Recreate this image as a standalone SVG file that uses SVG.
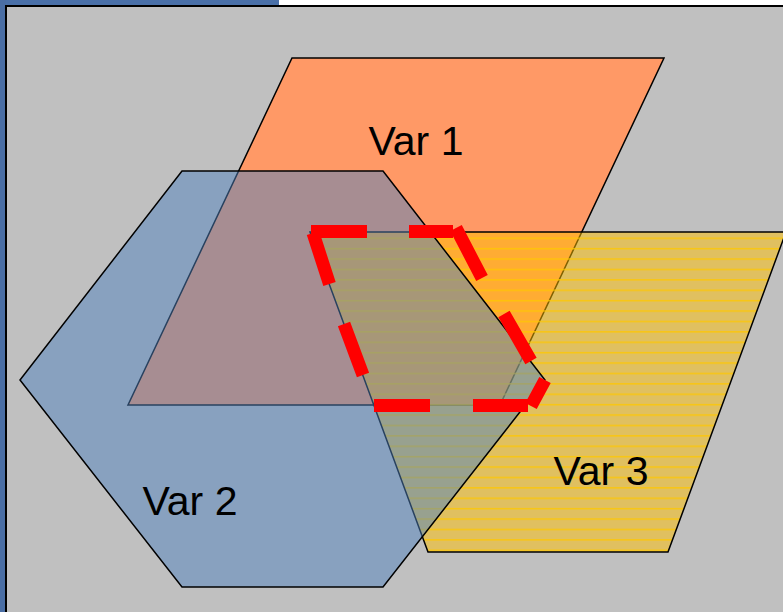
<svg xmlns="http://www.w3.org/2000/svg" width="783" height="612" viewBox="0 0 783 612">
  <style>
    .shape { stroke: #000; stroke-width: 1.5; stroke-linejoin: miter; }
    .label { font-family: "Liberation Sans", Arial, sans-serif; font-size: 41px; fill: #000; text-anchor: middle; }
    .dash { fill: none; stroke: #ff0000; stroke-width: 13; stroke-linecap: butt; stroke-linejoin: miter; }
  </style>
  <defs>
    <!-- faint horizontal ruling over the yellow fill -->
    <pattern id="ruling" patternUnits="userSpaceOnUse" x="0" y="549.5" width="20" height="10.4">
      <rect x="0" y="0" width="20" height="10.4" fill="#ffc000" fill-opacity="0.5"/>
      <rect x="0" y="0" width="20" height="1.5" fill="#ffc800" fill-opacity="0.8"/>
    </pattern>
  </defs>

  <!-- slide frame -->
  <g id="background">
    <rect x="0" y="0" width="783" height="612" fill="#ffffff"/>
    <rect x="0" y="0" width="279" height="6" fill="#4a70a8"/>
    <rect x="0" y="0" width="6" height="612" fill="#4a6ea4"/>
    <rect x="6" y="6" width="790" height="620" fill="#c0c0c0" stroke="#000" stroke-width="2"/>
  </g>

  <!-- Var 1: orange parallelogram -->
  <g id="var1">
    <polygon class="shape" points="292,58 664,58 500,405 128,405" fill="#ff9966"/>
    <text class="label" x="416" y="155">Var 1</text>
  </g>

  <!-- Var 3: yellow trapezoid -->
  <g id="var3">
    <polygon class="shape" points="310,232 786,232 668,552 428,552" fill="url(#ruling)"/>
    <text class="label" x="601" y="485">Var 3</text>
  </g>

  <!-- Var 2: blue hexagon -->
  <g id="var2">
    <polygon class="shape" points="20,380 182,171 383,171 545,380 383,587 182,587" fill="#4f81bd" fill-opacity="0.5"/>
    <text class="label" x="190" y="515">Var 2</text>
  </g>

  <!-- dashed outline of the common region -->
  <g id="connectors">
    <path class="dash" d="M311 231.5 H367 M409 231.5 H453 M456 228 L482 278 M504 314 L531 361 M545 380 L531 406 M473 405.5 H528 M374 405.5 H430 M344 324 L363 375 M313 233 L329.5 284"/>
  </g>
</svg>
